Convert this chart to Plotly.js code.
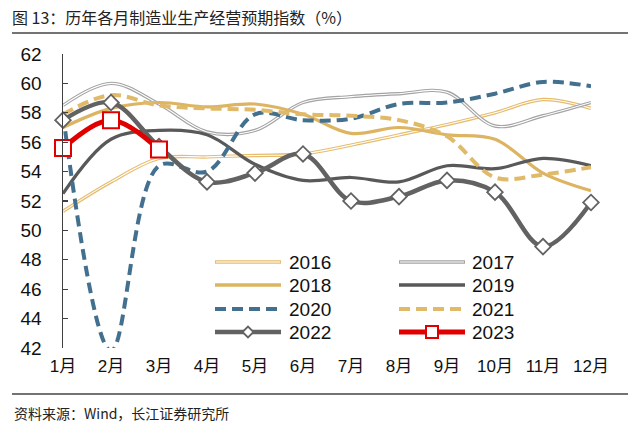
<!DOCTYPE html>
<html>
<head>
<meta charset="utf-8">
<script src="https://cdn.plot.ly/plotly-3.0.1.min.js"></script>
<style>
html,body{margin:0;padding:0;background:#fff;}
#chart{width:640px;height:434px;}
</style>
</head>
<body>
<div id="chart"></div>
<script>
const months = ['1月','2月','3月','4月','5月','6月','7月','8月','9月','10月','11月','12月'];
const yTicks = [42,44,46,48,50,52,54,56,58,60,62];
const y2016 = [51.3, 53.3, 54.9, 55.0, 55.1, 55.2, 55.8, 56.5, 57.2, 58.0, 58.9, 58.3];
const y2017 = [58.5, 60.0, 58.6, 56.7, 56.8, 58.7, 59.1, 59.3, 59.4, 57.1, 57.8, 58.7];
const y2018 = [57.0, 58.3, 58.7, 58.4, 58.6, 57.9, 56.6, 57.0, 56.5, 56.2, 53.9, 52.7];
const y2019 = [52.5, 56.2, 56.8, 56.5, 54.5, 53.4, 53.6, 53.3, 54.4, 54.2, 54.9, 54.4];
const y2020 = [57.9, 41.8, 54.4, 54.0, 57.9, 57.5, 57.6, 58.6, 58.7, 59.3, 60.1, 59.8];
const y2021 = [57.9, 59.2, 58.5, 58.3, 58.2, 57.9, 57.8, 57.5, 56.4, 53.6, 53.8, 54.3];
const y2022 = [57.5, 58.7, 55.7, 53.3, 53.9, 55.2, 52.0, 52.3, 53.4, 52.6, 48.9, 51.9];
const y2023 = [55.6, 57.5, 55.5];
const seriesNames = ['2016','2017','2018','2019','2020','2021','2022','2023'];

const C = {
  g16:'#E6BC6C', g17:'#A3A3A3', g18:'#DDB462', d19:'#595959',
  b20:'#43708F', g21:'#E0BA68', d22:'#626262', r23:'#E00000'
};
const DASH = '11px,6px';
const FONT = 'Liberation Sans, Arial, Noto Sans CJK SC, sans-serif';
const CJK = 'Noto Sans CJK SC, Liberation Sans, sans-serif';

function line(x, y, color, width, dash, extra) {
  return Object.assign({
    type:'scatter', mode:'lines', x:x, y:y, showlegend:false, hoverinfo:'skip', cliponaxis:false,
    line:{color:color, width:width, shape:'spline', smoothing:1, dash:dash||'solid'}
  }, extra||{});
}
const xs = months;
const traces = [
  line(xs, y2016, C.g16, 3.4),
  line(xs, y2016, '#ffffff', 1.1),
  line(xs, y2017, C.g17, 3.4),
  line(xs, y2017, '#ffffff', 1.1),
  line(xs, y2018, C.g18, 3.2),
  line(xs, y2019, C.d19, 3.2),
  line(xs, y2020, C.b20, 4, DASH, {cliponaxis:true}),
  line(xs, y2021, C.g21, 4, DASH),
  line(xs, y2022, C.d22, 4.5, null, {mode:'lines+markers',
    marker:{symbol:'diamond', size:12, color:'#ffffff', line:{color:C.d22, width:1.8}}}),
  line(xs.slice(0, y2023.length), y2023, C.r23, 5, null, {mode:'lines+markers',
    marker:{symbol:'square', size:16, color:'#ffffff', line:{color:C.r23, width:2}}})
];

// pixel -> paper helpers (plot area 63..591 x, 54..348 y)
const L=63, R=591, T=54, B=348;
const px = x => (x-L)/(R-L);
const py = y => (B-y)/(B-T);

const shapes = [];
const annotations = [];
shapes.push({type:'line', xref:'paper', yref:'paper', x0:px(12), x1:px(628), y0:py(33), y1:py(33), line:{color:'#444', width:1.5}});
shapes.push({type:'line', xref:'paper', yref:'paper', x0:px(12), x1:px(628), y0:py(394), y1:py(394), line:{color:'#444', width:1.5}});

// manual legend
const legendRows = [262, 285, 309, 332];
const legendCols = [[215, 281, 287], [399, 465, 470]];
const legendStyle = [
  {c:C.g16, w:3.4, inner:true},
  {c:C.g17, w:3.4, inner:true},
  {c:C.g18, w:3.6},
  {c:C.d19, w:3.6},
  {c:C.b20, w:4.2, dash:DASH},
  {c:C.g21, w:4.2, dash:DASH},
  {c:C.d22, w:4.5, marker:'diamond'},
  {c:C.r23, w:5, marker:'square'}
];
seriesNames.forEach((name, i) => {
  const row = legendRows[Math.floor(i/2)];
  const col = legendCols[i%2];
  const s = legendStyle[i];
  shapes.push({type:'line', xref:'paper', yref:'paper', x0:px(col[0]), x1:px(col[1]), y0:py(row), y1:py(row),
    line:{color:s.c, width:s.w, dash:s.dash||'solid'}});
  if (s.inner) {
    shapes.push({type:'line', xref:'paper', yref:'paper', x0:px(col[0]+1), x1:px(col[1]-1), y0:py(row), y1:py(row),
      line:{color:'#ffffff', width:1.1}});
  }
  const mx = (col[0]+col[1])/2;
  if (s.marker === 'diamond') {
    const h = 5.5;
    shapes.push({type:'path', xref:'paper', yref:'paper',
      path:`M${px(mx-h)},${py(row)} L${px(mx)},${py(row-h)} L${px(mx+h)},${py(row)} L${px(mx)},${py(row+h)} Z`,
      fillcolor:'#ffffff', line:{color:s.c, width:1.8}});
  } else if (s.marker === 'square') {
    const h = 6;
    shapes.push({type:'rect', xref:'paper', yref:'paper', x0:px(mx-h), x1:px(mx+h), y0:py(row-h), y1:py(row+h),
      fillcolor:'#ffffff', line:{color:s.c, width:2}});
  }
  annotations.push({xref:'paper', yref:'paper', x:px(col[2]), y:py(row), xanchor:'left', yanchor:'middle',
    showarrow:false, text:name, font:{family:FONT, size:19, color:'#111'}});
});

annotations.push({xref:'paper', yref:'paper', x:px(12), y:py(413), xanchor:'left', yanchor:'middle',
  showarrow:false, text:'资料来源：Wind，长江证券研究所', font:{family:CJK, size:14, color:'#222'}});

const layout = {
  width:640, height:434,
  margin:{l:L, r:640-R, t:T, b:434-B, pad:0},
  paper_bgcolor:'#ffffff', plot_bgcolor:'#ffffff',
  showlegend:false,
  title:{text:'图 13：历年各月制造业生产经营预期指数（%）', x:12/640, xanchor:'left', xref:'container',
    y:1-18/434, yanchor:'middle', yref:'container', font:{family:CJK, size:16, color:'#222'}},
  xaxis:{type:'category', categoryarray:months, range:[0, months.length-1], showline:false, showgrid:false,
    zeroline:false, ticks:'', ticklabelstandoff:6, tickfont:{family:FONT, size:17, color:'#111'}},
  xaxis2:{overlaying:'x', anchor:'free', position:(50-42)/(62-42), range:[0, months.length-1],
    tickmode:'linear', tick0:0, dtick:1, showline:true, linecolor:'#404040', linewidth:1.5,
    ticks:'inside', ticklen:5, tickwidth:1.3, tickcolor:'#404040', showticklabels:false,
    showgrid:false, zeroline:false},
  yaxis:{range:[42,62], tickvals:yTicks, showline:true, linecolor:'#404040', linewidth:1.5,
    ticks:'inside', ticklen:5, tickwidth:1.3, tickcolor:'#404040', showgrid:false, zeroline:false,
    ticklabelstandoff:16, tickfont:{family:FONT, size:19, color:'#111'}},
  shapes:shapes,
  annotations:annotations
};

Plotly.newPlot('chart', traces, layout, {staticPlot:true, displayModeBar:false});
</script>
</body>
</html>
